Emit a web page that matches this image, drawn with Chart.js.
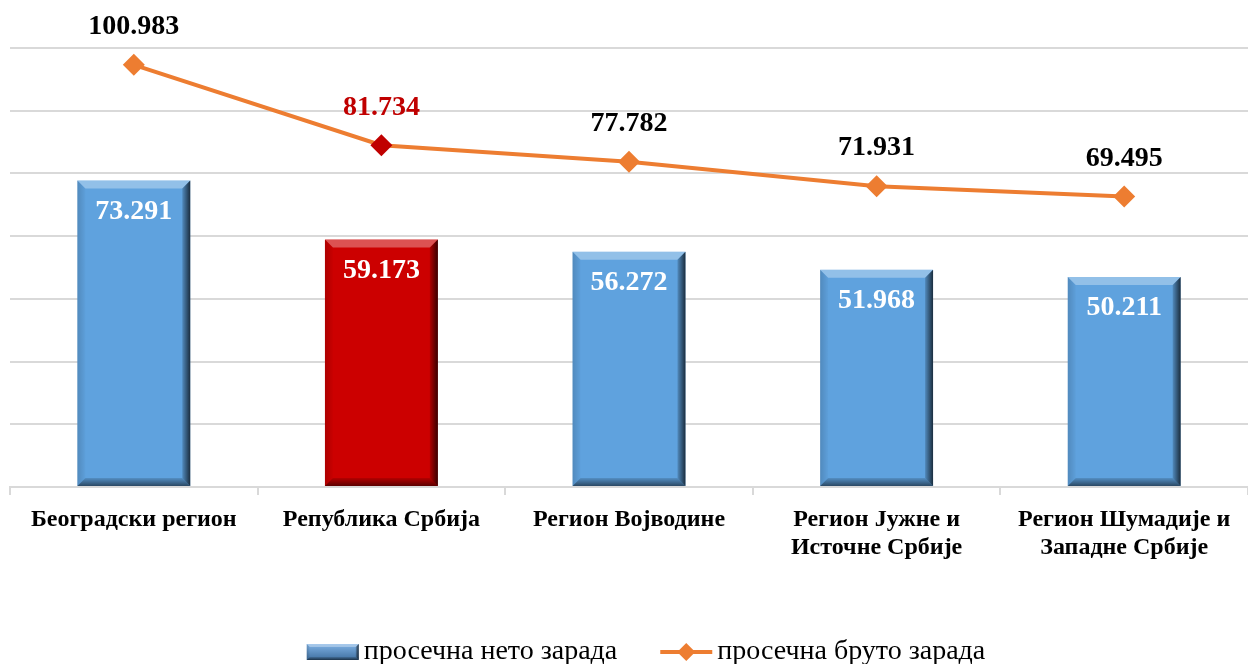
<!DOCTYPE html>
<html>
<head>
<meta charset="utf-8">
<script src="https://cdn.jsdelivr.net/npm/chart.js@4.4.1/dist/chart.umd.min.js"></script>
<style>
html, body { margin: 0; padding: 0; background: #fff; overflow: hidden; }
</style>
</head>
<body>
<canvas id="c" width="1248" height="664"></canvas>
<script>
const categories = [
    "Београдски регион",
    "Република Србија",
    "Регион Војводине",
    ["Регион Јужне и", "Источне Србије"],
    ["Регион Шумадије и", "Западне Србије"],
];
const netoZarada = [73291, 59173, 56272, 51968, 50211];
const brutoZarada = [100983, 81734, 77782, 71931, 69495];
const seriesNames = ["просечна нето зарада", "просечна бруто зарада"];
const yMax = 105000;
const yStep = 15000;

const srbijaIdx = 1; // Republika Srbija istaknuta crvenom
const BLUE = "#5FA2DE";
const RED = "#CC0000";
const ORANGE = "#ED7D31";
const DARK_RED = "#C00000";
const SERIF = "'Liberation Serif', 'Times New Roman', serif";

const fmt = (v) => (v / 1000).toFixed(3);

function poly(ctx, pts, fill) {
    ctx.beginPath();
    ctx.moveTo(pts[0][0], pts[0][1]);
    for (let i = 1; i < pts.length; i++) ctx.lineTo(pts[i][0], pts[i][1]);
    ctx.closePath();
    ctx.fillStyle = fill;
    ctx.fill();
}

// reljefni okvir stubca
function bevel(ctx, l, t, r, b, e) {
    poly(ctx, [[l, t], [r, t], [r - e, t + e], [l + e, t + e]], "rgba(255,255,255,0.32)");
    let g = ctx.createLinearGradient(l, 0, l + e, 0);
    g.addColorStop(0, "rgba(0,0,0,0.15)");
    g.addColorStop(1, "rgba(0,0,0,0.02)");
    poly(ctx, [[l, t], [l + e, t + e], [l + e, b - e], [l, b]], g);
    g = ctx.createLinearGradient(r - e, 0, r, 0);
    g.addColorStop(0, "rgba(0,0,0,0.15)");
    g.addColorStop(1, "rgba(0,0,0,0.72)");
    poly(ctx, [[r, t], [r, b], [r - e, b - e], [r - e, t + e]], g);
    g = ctx.createLinearGradient(0, b - e, 0, b);
    g.addColorStop(0, "rgba(0,0,0,0.12)");
    g.addColorStop(1, "rgba(0,0,0,0.55)");
    poly(ctx, [[l, b], [r, b], [r - e, b - e], [l + e, b - e]], g);
}

const bevelPlugin = {
    id: "bevel",
    afterDatasetDraw(chart, args) {
        if (args.index !== 0) return;
        const ctx = chart.ctx;
        ctx.save();
        args.meta.data.forEach((bar) => {
            const l = bar.x - bar.width / 2;
            const r = bar.x + bar.width / 2;
            bevel(ctx, l, bar.y, r, bar.base, 8);
        });
        ctx.restore();
    },
};

const labelPlugin = {
    id: "labels",
    afterDatasetsDraw(chart) {
        const ctx = chart.ctx;
        ctx.save();
        ctx.font = "bold 28px " + SERIF;
        ctx.textAlign = "center";
        ctx.textBaseline = "middle";
        chart.getDatasetMeta(0).data.forEach((bar, i) => {
            ctx.fillStyle = "#fff";
            ctx.fillText(fmt(netoZarada[i]), bar.x, bar.y + 31);
        });
        chart.getDatasetMeta(1).data.forEach((pt, i) => {
            ctx.fillStyle = i === srbijaIdx ? DARK_RED : "#000";
            ctx.fillText(fmt(brutoZarada[i]), pt.x, pt.y - 38);
        });
        ctx.restore();
    },
};

const legendPlugin = {
    id: "legendaDole",
    afterDraw(chart) {
        const ctx = chart.ctx;
        ctx.save();
        ctx.font = "28px " + SERIF;
        ctx.textBaseline = "middle";
        ctx.fillStyle = "#000";
        const w1 = ctx.measureText(seriesNames[0]).width;
        const w2 = ctx.measureText(seriesNames[1]).width;
        const iconW = 52, gap = 5, itemGap = 43;
        const total = iconW + gap + w1 + itemGap + iconW + gap + w2;
        let x = 646 - total / 2;
        const y = 652;

        // ikonica stubca
        let g = ctx.createLinearGradient(0, y - 8, 0, y + 8);
        g.addColorStop(0, "#7FB2E5");
        g.addColorStop(1, "#3F6F9F");
        ctx.fillStyle = g;
        ctx.fillRect(x, y - 8, iconW, 16);
        bevel(ctx, x, y - 8, x + iconW, y + 8, 3);
        ctx.fillStyle = "#000";
        ctx.fillText(seriesNames[0], x + iconW + gap, y);
        x += iconW + gap + w1 + itemGap;

        // ikonica linije
        ctx.strokeStyle = ORANGE;
        ctx.lineWidth = 4;
        ctx.beginPath();
        ctx.moveTo(x, y);
        ctx.lineTo(x + iconW, y);
        ctx.stroke();
        const cx = x + iconW / 2;
        poly(ctx, [[cx, y - 9], [cx + 9, y], [cx, y + 9], [cx - 9, y]], ORANGE);
        ctx.fillStyle = "#000";
        ctx.fillText(seriesNames[1], x + iconW + gap, y);
        ctx.restore();
    },
};

new Chart(document.getElementById("c"), {
    type: "bar",
    data: {
        labels: categories,
        datasets: [
            {
                type: "bar",
                label: seriesNames[0],
                data: netoZarada,
                backgroundColor: (c) => (c.dataIndex === srbijaIdx ? RED : BLUE),
                borderWidth: 0,
                categoryPercentage: 1,
                barPercentage: 0.456,
                order: 2,
            },
            {
                type: "line",
                label: seriesNames[1],
                data: brutoZarada,
                borderColor: ORANGE,
                borderWidth: 4,
                tension: 0,
                pointStyle: "rectRot",
                pointRadius: 11,
                pointHoverRadius: 11,
                pointBorderWidth: 0,
                pointBackgroundColor: (c) => (c.dataIndex === srbijaIdx ? DARK_RED : ORANGE),
                order: 1,
            },
        ],
    },
    options: {
        responsive: false,
        animation: false,
        layout: { autoPadding: false, padding: { left: 10, top: 48, right: 0, bottom: 0 } },
        plugins: {
            legend: { display: false },
            tooltip: { enabled: false },
        },
        scales: {
            x: {
                offset: true,
                grid: {
                    offset: true,
                    drawOnChartArea: false,
                    drawTicks: true,
                    tickLength: 8,
                    color: "#D9D9D9",
                    lineWidth: 2,
                },
                border: { display: true, color: "#D9D9D9", width: 2 },
                ticks: {
                    color: "#000",
                    font: { family: SERIF, size: 24, weight: "bold", lineHeight: 1.17 },
                    padding: 11,
                    maxRotation: 0,
                    autoSkip: false,
                },
                afterFit(s) {
                    s.height = 177;
                    s.paddingLeft = 0;
                    s.paddingRight = 0;
                },
            },
            y: {
                min: 0,
                max: yMax,
                ticks: { stepSize: yStep, display: false },
                grid: { color: "#D9D9D9", lineWidth: 2, drawTicks: false },
                border: { display: false },
                afterFit(s) {
                    s.width = 0;
                },
            },
        },
    },
    plugins: [bevelPlugin, labelPlugin, legendPlugin],
});
</script>
</body>
</html>
